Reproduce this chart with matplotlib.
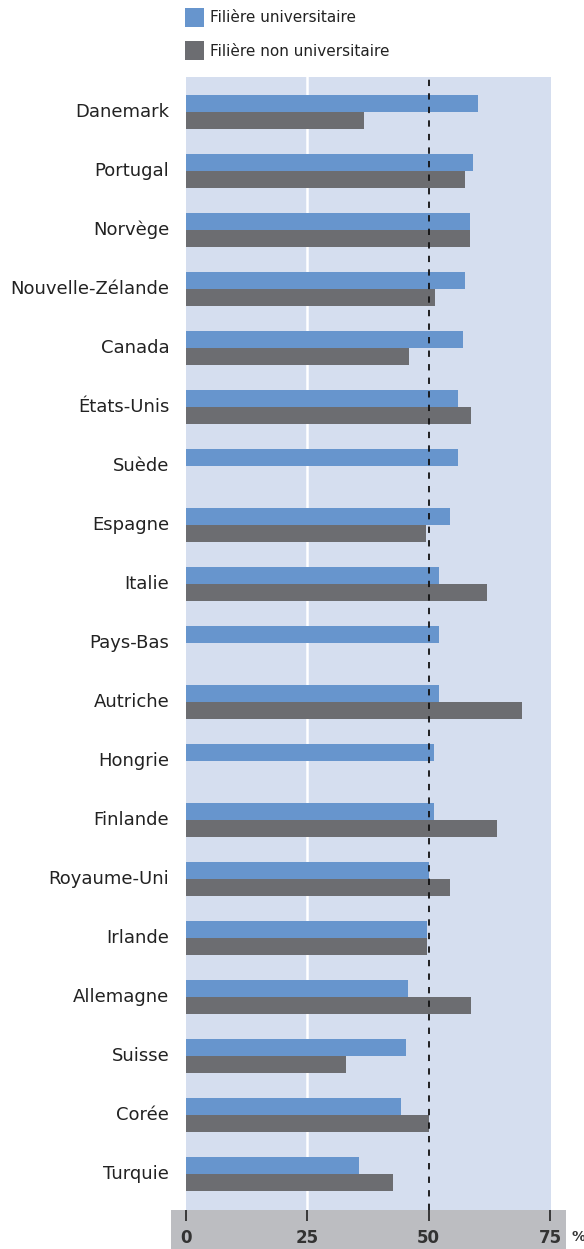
import matplotlib.pyplot as plt
from matplotlib.patches import Rectangle
import numpy as np

pays = ['Danemark', 'Portugal', 'Norvège', 'Nouvelle-Zélande', 'Canada', 'États-Unis',
        'Suède', 'Espagne', 'Italie', 'Pays-Bas', 'Autriche', 'Hongrie', 'Finlande',
        'Royaume-Uni', 'Irlande', 'Allemagne', 'Suisse', 'Corée', 'Turquie']
universitaire = [60.2, 59.1, 58.5, 57.5, 57.1, 56.0, 56.0, 54.4, 52.1, 52.1, 52.1,
                 51.1, 51.1, 50.1, 49.7, 45.7, 45.3, 44.3, 35.6]
non_universitaire = [36.7, 57.5, 58.5, 51.3, 45.9, 58.7, np.nan, 49.5, 62.0, np.nan, 69.2,
                     np.nan, 64.1, 54.4, 49.7, 58.7, 33.0, 50.1, 42.6]
ticks = [0, 25, 50, 75]

bleu = '#6795cd'
gris = '#6c6d71'
fond = '#d5deef'

W, H = 584, 1249
fig = plt.figure(figsize=(W / 100, H / 100), dpi=100)
ax = fig.add_axes([186 / W, (H - 1210) / H, 365 / W, 1133 / H])
ax.set_facecolor(fond)

# bande grise sous l'axe
fig.patches.append(Rectangle((171 / W, 0), 395 / W, 39 / H, transform=fig.transFigure,
                             facecolor='#bcbdc1', edgecolor='none', zorder=-1))

y = np.arange(len(pays))
h = 0.28
ax.barh(y - h / 2, universitaire, height=h, color=bleu, zorder=3)
ax.barh(y + h / 2, non_universitaire, height=h, color=gris, zorder=3)

ax.axvline(25, color='white', lw=1.8, zorder=1)
ax.axvline(50, color='#111111', lw=1.3, ls=(0, (3.5, 4)), zorder=4)

ax.set_xlim(0, 75.2)
ax.set_ylim(18.61, -0.593)
ax.set_yticks(y)
ax.set_yticklabels(pays, fontsize=13, color='#222222', va='center')
ax.tick_params(axis='y', length=0, pad=12)
ax.set_xticks(ticks)
ax.set_xticklabels([str(t) for t in ticks], fontsize=12, fontweight='bold', color='#333333')
ax.tick_params(axis='x', direction='out', length=8, width=1.2, color='#222222', pad=6)
for s in ax.spines.values():
    s.set_visible(False)

fig.text(571 / W, (H - 1237) / H, '%', fontsize=10, fontweight='bold', color='#333333',
         va='center', ha='left')

# légende
fig.patches.append(Rectangle((185 / W, (H - 27) / H), 19 / W, 19 / H, transform=fig.transFigure,
                             facecolor=bleu, edgecolor='none'))
fig.patches.append(Rectangle((185 / W, (H - 60) / H), 19 / W, 19 / H, transform=fig.transFigure,
                             facecolor=gris, edgecolor='none'))
fig.text(210 / W, (H - 18) / H, 'Filière universitaire', fontsize=11, color='#222222', va='center')
fig.text(210 / W, (H - 51) / H, 'Filière non universitaire', fontsize=11, color='#222222', va='center')

fig.savefig('out.png', dpi=100)
